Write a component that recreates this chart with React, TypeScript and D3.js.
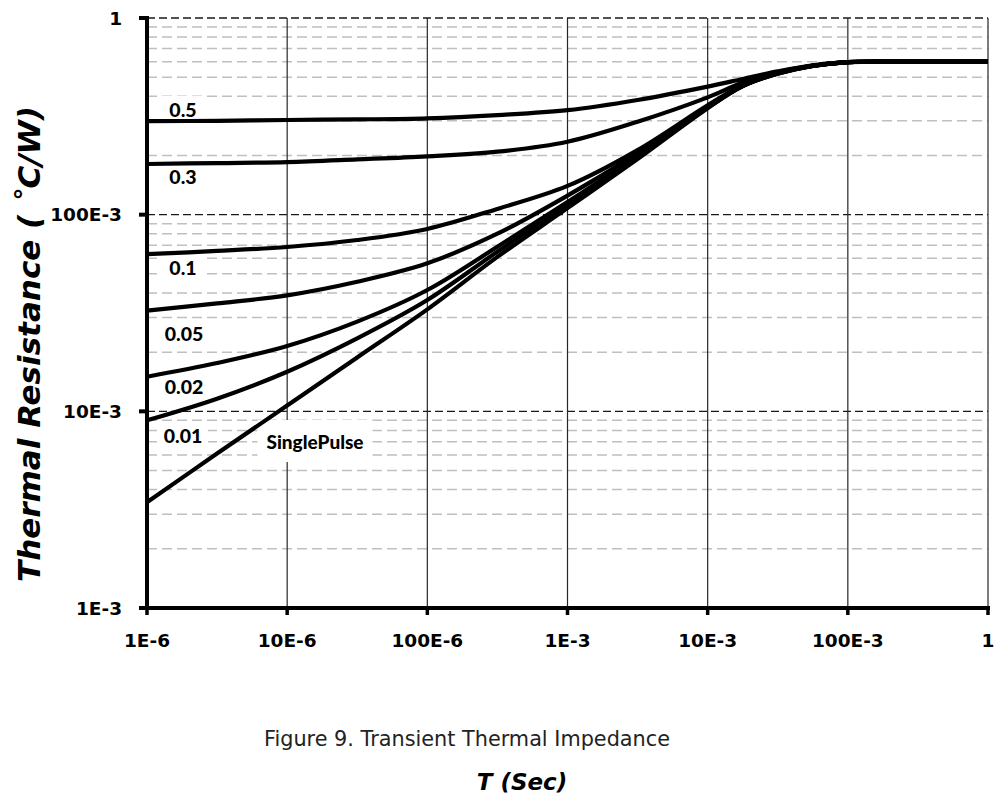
import React, { useEffect, useRef } from 'react';
import * as d3 from 'd3';

// time axis samples (s)
const times = [1e-6, 3.16e-6, 1e-5, 3.16e-5, 1e-4, 3.16e-4, 1e-3, 3.16e-3, 1e-2, 1.78e-2, 3.16e-2, 5.62e-2, 1e-1, 3.16e-1, 1];

// thermal resistance (°C/W) per duty cycle
const duty05 = [0.299, 0.300, 0.303, 0.305, 0.309, 0.321, 0.340, 0.383, 0.448, 0.490, 0.535, 0.575, 0.597, 0.600, 0.600];
const duty03 = [0.181, 0.183, 0.185, 0.191, 0.198, 0.209, 0.235, 0.297, 0.395, 0.470, 0.530, 0.573, 0.597, 0.600, 0.600];
const duty01 = [0.063, 0.0654, 0.0685, 0.0743, 0.0846, 0.107, 0.140, 0.213, 0.360, 0.456, 0.525, 0.572, 0.597, 0.600, 0.600];
const duty005 = [0.0325, 0.0354, 0.0389, 0.0456, 0.0566, 0.080, 0.125, 0.205, 0.355, 0.454, 0.524, 0.572, 0.597, 0.600, 0.600];
const duty002 = [0.0150, 0.0176, 0.0215, 0.0286, 0.0414, 0.0687, 0.116, 0.198, 0.352, 0.452, 0.523, 0.571, 0.597, 0.600, 0.600];
const duty001 = [0.0090, 0.0116, 0.0159, 0.0235, 0.0368, 0.0648, 0.112, 0.195, 0.350, 0.451, 0.522, 0.571, 0.597, 0.600, 0.600];
const singlePulse = [0.00345, 0.0061, 0.0107, 0.0188, 0.0330, 0.0610, 0.108, 0.192, 0.348, 0.450, 0.521, 0.571, 0.597, 0.600, 0.600];

const seriesNames = ['0.5', '0.3', '0.1', '0.05', '0.02', '0.01', 'SinglePulse'];
const seriesValues = [duty05, duty03, duty01, duty005, duty002, duty001, singlePulse];

const xTickValues = [1e-6, 1e-5, 1e-4, 1e-3, 1e-2, 1e-1, 1];
const xTickLabels = ['1E-6', '10E-6', '100E-6', '1E-3', '10E-3', '100E-3', '1'];
const yTickValues = [1e-3, 1e-2, 1e-1, 1];
const yTickLabels = ['1E-3', '10E-3', '100E-3', '1'];

const yTitle = 'Thermal Resistance ( ˚C/W)';
const xTitle = 'T (Sec)';
const caption = 'Figure 9. Transient Thermal Impedance';

// label placement in pixels: text center x, y, box width, box height
const labelPos: [number, number, number, number][] = [
  [183, 109, 48, 26],
  [183, 176, 48, 26],
  [183, 267, 48, 26],
  [184, 333, 50, 26],
  [184, 386, 50, 26],
  [183, 435, 50, 26],
  [315, 441, 115, 42],
];

export default function App() {
  const svgRef = useRef<SVGSVGElement>(null);

  useEffect(() => {
    if (!svgRef.current) return;
    const svg = d3.select(svgRef.current);
    svg.selectAll('*').remove();

    const L = 147, R = 988, T = 18, B = 608;
    const x = d3.scaleLog().domain([1e-6, 1]).range([L, R]);
    const y = d3.scaleLog().domain([1e-3, 1]).range([B, T]);

    svg.append('rect').attr('width', 998).attr('height', 796).attr('fill', '#fff');

    // minor horizontal grid
    const minor = y.ticks().filter(v => !yTickValues.some(m => Math.abs(m - v) / m < 1e-6));
    svg.append('g').selectAll('line').data(minor).join('line')
      .attr('x1', L).attr('x2', R)
      .attr('y1', d => y(d)).attr('y2', d => y(d))
      .attr('stroke', '#bfbfbf').attr('stroke-width', 1.5)
      .attr('stroke-dasharray', '10,5');

    // major horizontal grid
    svg.append('g').selectAll('line').data(yTickValues.slice(1)).join('line')
      .attr('x1', L).attr('x2', R)
      .attr('y1', d => y(d)).attr('y2', d => y(d))
      .attr('stroke', '#1a1a1a').attr('stroke-width', 1.3)
      .attr('stroke-dasharray', '8,4');

    // vertical grid
    svg.append('g').selectAll('line').data(xTickValues.slice(1)).join('line')
      .attr('x1', d => x(d)).attr('x2', d => x(d))
      .attr('y1', T).attr('y2', B)
      .attr('stroke', '#262626').attr('stroke-width', 1.2);

    // label backgrounds
    svg.append('g').selectAll('rect').data(labelPos).join('rect')
      .attr('x', d => d[0] - d[2] / 2).attr('y', d => d[1] - d[3] / 2)
      .attr('width', d => d[2]).attr('height', d => d[3])
      .attr('fill', '#fff');

    // curves
    const line = d3.line<number>()
      .x((_, i) => x(times[i]))
      .y(d => y(d))
      .curve(d3.curveCatmullRom.alpha(0.5));
    svg.append('g').selectAll('path').data(seriesValues).join('path')
      .attr('d', d => line(d))
      .attr('fill', 'none').attr('stroke', '#000').attr('stroke-width', 4.2)
      .attr('stroke-linejoin', 'round');

    // series labels
    svg.append('g').selectAll('text').data(seriesNames).join('text')
      .attr('x', (_, i) => labelPos[i][0]).attr('y', (_, i) => labelPos[i][1])
      .attr('text-anchor', 'middle').attr('dominant-baseline', 'central')
      .attr('font-family', 'Lato, "Open Sans", sans-serif').attr('font-weight', 900)
      .attr('font-size', (_, i) => (i === 6 ? 19 : 19.5)).attr('fill', '#000')
      .text(d => d);

    // axes
    svg.append('line').attr('x1', L).attr('x2', L).attr('y1', T - 2).attr('y2', B + 2)
      .attr('stroke', '#000').attr('stroke-width', 4);
    svg.append('line').attr('x1', L - 2).attr('x2', R + 2).attr('y1', B).attr('y2', B)
      .attr('stroke', '#000').attr('stroke-width', 4);

    svg.append('g').selectAll('line').data(yTickValues).join('line')
      .attr('x1', L - 8).attr('x2', L).attr('y1', d => y(d)).attr('y2', d => y(d))
      .attr('stroke', '#000').attr('stroke-width', 4);
    svg.append('g').selectAll('line').data(xTickValues).join('line')
      .attr('x1', d => x(d)).attr('x2', d => x(d)).attr('y1', B).attr('y2', B + 7)
      .attr('stroke', '#000').attr('stroke-width', 3.5);

    const tickFont = '"DejaVu Sans", Verdana, sans-serif';
    svg.append('g').selectAll('text').data(yTickLabels).join('text')
      .attr('x', 122).attr('y', (_, i) => y(yTickValues[i]))
      .attr('text-anchor', 'end').attr('dominant-baseline', 'central')
      .attr('font-family', tickFont).attr('font-weight', 'bold').attr('font-size', 18.5)
      .text(d => d);
    svg.append('g').selectAll('text').data(xTickLabels).join('text')
      .attr('x', (_, i) => x(xTickValues[i])).attr('y', 640)
      .attr('text-anchor', 'middle').attr('dominant-baseline', 'central')
      .attr('font-family', tickFont).attr('font-weight', 'bold').attr('font-size', 18.5)
      .text(d => d);

    // titles
    svg.append('text')
      .attr('transform', 'translate(29,344) rotate(-90)')
      .attr('text-anchor', 'middle').attr('dominant-baseline', 'central')
      .attr('font-family', tickFont).attr('font-weight', 'bold').attr('font-style', 'italic')
      .attr('font-size', 31).text(yTitle);

    svg.append('text').attr('x', 467).attr('y', 746)
      .attr('text-anchor', 'middle')
      .attr('font-family', tickFont).attr('font-size', 20.8).attr('fill', '#222')
      .text(caption);

    svg.append('text').attr('x', 522).attr('y', 790)
      .attr('text-anchor', 'middle')
      .attr('font-family', tickFont).attr('font-weight', 'bold').attr('font-style', 'italic')
      .attr('font-size', 23).text(xTitle);
  }, []);

  return (
    <svg
      ref={svgRef}
      width={998}
      height={796}
      style={{ position: 'absolute', left: 0, top: 0 }}
    />
  );
}
